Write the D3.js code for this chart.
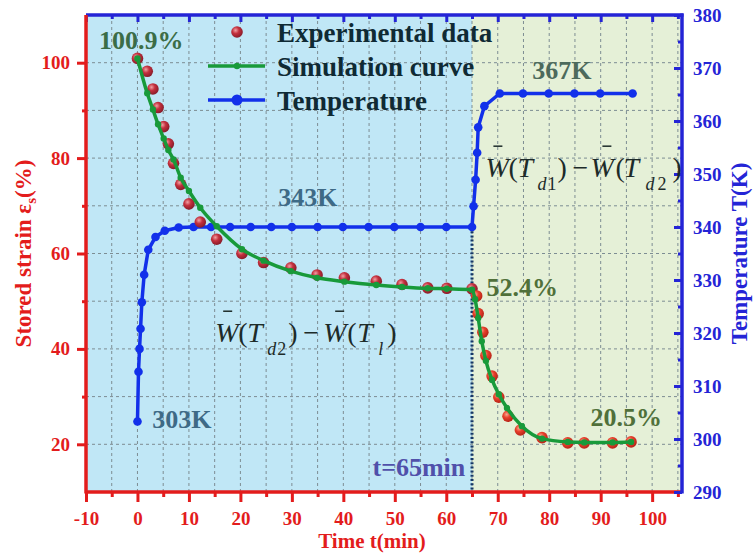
<!DOCTYPE html>
<html><head><meta charset="utf-8">
<script src="https://cdn.jsdelivr.net/npm/d3@7"></script>
<style>html,body{margin:0;padding:0;background:#fff}svg{display:block}</style>
</head><body>
<svg id="c" width="753" height="557"></svg>
<script>
// ---- data ----
const expT = [0, 1.9, 3.0, 4.0, 5.1, 6.0, 7.0, 8.4, 10.0, 12.2, 15.4, 20.3, 24.5, 29.8, 34.9, 40.2, 46.4, 51.4, 56.4, 60.1, 65.0, 65.9, 66.2, 67.1, 67.7, 68.9, 70.2, 72.0, 74.4, 78.6, 83.6, 86.8, 92.3, 95.9];
const expV = [100.9, 98.2, 94.5, 90.6, 86.6, 83.0, 78.9, 74.5, 70.4, 66.6, 63.0, 60.0, 58.1, 57.0, 55.5, 54.9, 54.2, 53.5, 52.8, 52.7, 52.6, 51.1, 47.4, 43.5, 38.6, 34.3, 29.9, 25.9, 23.0, 21.4, 20.3, 20.3, 20.3, 20.5];
const simT = [0, 1.9, 3.0, 4.0, 5.1, 6.0, 7.0, 8.4, 10.0, 12.2, 15.4, 20.3, 24.5, 29.8, 34.9, 40.2, 46.4, 51.4, 56.4, 60.1, 65.0, 65.6, 66.2, 66.9, 67.7, 68.9, 70.2, 71.8, 74.7, 78.6, 83.6, 86.8, 92.3, 95.9];
const simV = [100.9, 93.6, 90.2, 87.1, 84.1, 81.7, 79.7, 75.9, 73.1, 69.6, 65.7, 60.9, 58.5, 56.3, 54.9, 54.1, 53.4, 53.0, 52.7, 52.6, 52.4, 50.4, 46.5, 41.6, 37.5, 33.5, 30.5, 27.6, 23.8, 21.2, 20.5, 20.4, 20.4, 20.5];
const tempT = [0, 0.2, 0.4, 0.6, 0.85, 1.3, 2.1, 3.5, 5.3, 8.0, 10.9, 14.3, 18.0, 22.0, 26.0, 30.0, 35.0, 39.9, 44.9, 49.9, 55.0, 60.0, 65.0, 65.3, 65.7, 66.0, 66.2, 67.4, 70.4, 74.9, 79.9, 84.9, 89.9, 96.2];
const tempV = [303.3, 312.7, 317.0, 320.8, 325.8, 331.0, 335.7, 338.1, 339.3, 339.9, 340, 340, 340, 340, 340, 340, 340, 340, 340, 340, 340, 340, 340, 343.9, 348.9, 354.0, 358.8, 362.8, 365.2, 365.2, 365.2, 365.2, 365.2, 365.2];
const xTicks = [-10, 0, 10, 20, 30, 40, 50, 60, 70, 80, 90, 100];
const yLeftTicks = [20, 40, 60, 80, 100];
const yRightTicks = [290, 300, 310, 320, 330, 340, 350, 360, 370, 380];
const switchTime = 65;
const legendLabels = ["Experimental data", "Simulation curve", "Temperature"];

// ---- layout ----
const L = 86, R = 682, T = 15, B = 492;
const svg = d3.select("#c");
const x = d3.scaleLinear().domain([-10, 105.8]).range([L, R]);
const yL = d3.scaleLinear().domain([10, 110]).range([B, T]);
const yR = d3.scaleLinear().domain([290, 380]).range([B, T]);
const serif = "'Liberation Serif','Times New Roman',serif";
const fmt = d => String(d);

const defs = svg.append("defs");
function ballGrad(id, hi, mid, edge) {
  const g = defs.append("radialGradient").attr("id", id).attr("cx", "38%").attr("cy", "35%").attr("r", "65%");
  g.append("stop").attr("offset", "0%").attr("stop-color", hi);
  g.append("stop").attr("offset", "45%").attr("stop-color", mid);
  g.append("stop").attr("offset", "100%").attr("stop-color", edge);
}
ballGrad("ballA", "#f0a0a4", "#c4303e", "#8a1c2a");
ballGrad("ballB", "#f7a890", "#e8402c", "#b82418");

// backgrounds
svg.append("rect").attr("x", x(-10)).attr("y", T).attr("width", x(switchTime) - x(-10)).attr("height", B - T).attr("fill", "#c0e7f6");
svg.append("rect").attr("x", x(switchTime)).attr("y", T).attr("width", R - x(switchTime)).attr("height", B - T).attr("fill", "#e5f0d7");

// grid
const grid = svg.append("g").attr("stroke", "#7d8d93").attr("stroke-width", 1).attr("stroke-dasharray", "3,3");
grid.selectAll("line.v").data(d3.range(-5, 106, 5)).join("line")
  .attr("x1", d => x(d)).attr("x2", d => x(d)).attr("y1", T).attr("y2", B);
grid.selectAll("line.h").data(d3.range(20, 101, 10)).join("line")
  .attr("x1", L).attr("x2", R).attr("y1", d => yL(d)).attr("y2", d => yL(d));

// dotted switch line
svg.append("line").attr("x1", x(switchTime)).attr("x2", x(switchTime))
  .attr("y1", yR(340)).attr("y2", B).attr("stroke", "#173867").attr("stroke-width", 3).attr("stroke-dasharray", "2,2.2");

// temperature
const tempData = tempT.map((t, i) => [t, tempV[i]]);
svg.append("path").datum(tempData).attr("fill", "none").attr("stroke", "#1230ea").attr("stroke-width", 3.5)
  .attr("d", d3.line().x(d => x(d[0])).y(d => yR(d[1])));
svg.append("g").selectAll("circle").data(tempData).join("circle")
  .attr("cx", d => x(d[0])).attr("cy", d => yR(d[1])).attr("r", 4.3).attr("fill", "#1230ea");

// experimental
const expData = expT.map((t, i) => [t, expV[i]]);
svg.append("g").selectAll("circle").data(expData).join("circle")
  .attr("cx", d => x(d[0])).attr("cy", d => yL(d[1])).attr("r", 5.8)
  .attr("fill", d => d[0] <= switchTime ? "url(#ballA)" : "url(#ballB)");

// simulation
const simData = simT.map((t, i) => [t, simV[i]]);
svg.append("path").datum(simData).attr("fill", "none").attr("stroke", "#189a3a").attr("stroke-width", 3.5)
  .attr("d", d3.line().x(d => x(d[0])).y(d => yL(d[1])).curve(d3.curveMonotoneX));
svg.append("g").selectAll("circle").data(simData).join("circle")
  .attr("cx", d => x(d[0])).attr("cy", d => yL(d[1])).attr("r", 3.2).attr("fill", "#189a3a");

// axes
function styleAxis(g, color) {
  g.attr("font-family", serif).attr("font-size", 19);
  g.select(".domain").remove();
  g.selectAll(".tick line").attr("stroke", color).attr("stroke-width", 3);
  g.selectAll(".tick text").attr("fill", color).attr("font-family", serif).attr("font-weight", "bold").attr("font-size", 19);
}
const red = "#e31c1c", blue = "#2424d6";
// bottom
const gb = svg.append("g").attr("transform", `translate(0,${B})`);
gb.call(d3.axisBottom(x).tickValues(d3.range(-5, 106, 10)).tickSize(5).tickFormat(""));
styleAxis(gb, red);
const gb2 = svg.append("g").attr("transform", `translate(0,${B})`);
gb2.call(d3.axisBottom(x).tickValues(xTicks).tickSize(10).tickPadding(10).tickFormat(fmt));
styleAxis(gb2, red);
svg.append("line").attr("x1", L - 1).attr("x2", R).attr("y1", B).attr("y2", B).attr("stroke", red).attr("stroke-width", 3.5);
// top
const gt = svg.append("g").attr("transform", `translate(0,${T})`);
gt.call(d3.axisBottom(x).tickValues(xTicks).tickSize(7).tickFormat(""));
styleAxis(gt, blue);
const gt2 = svg.append("g").attr("transform", `translate(0,${T})`);
gt2.call(d3.axisBottom(x).tickValues(d3.range(-5, 106, 10)).tickSize(4).tickFormat(""));
styleAxis(gt2, blue);
svg.append("line").attr("x1", L).attr("x2", R + 1.5).attr("y1", T).attr("y2", T).attr("stroke", blue).attr("stroke-width", 3.5);
// left
const gl = svg.append("g").attr("transform", `translate(${L},0)`);
gl.call(d3.axisLeft(yL).tickValues(d3.range(30, 101, 20)).tickSize(4).tickFormat(""));
styleAxis(gl, red);
const gl2 = svg.append("g").attr("transform", `translate(${L},0)`);
gl2.call(d3.axisLeft(yL).tickValues(yLeftTicks).tickSize(9).tickPadding(7).tickFormat(fmt));
styleAxis(gl2, red);
svg.append("line").attr("x1", L).attr("x2", L).attr("y1", T).attr("y2", B + 1.5).attr("stroke", red).attr("stroke-width", 3.5);
// right
const gr = svg.append("g").attr("transform", `translate(${R},0)`);
gr.call(d3.axisLeft(yR).tickValues(d3.range(295, 380, 10)).tickSize(4).tickFormat(""));
styleAxis(gr, blue);
const gr2 = svg.append("g").attr("transform", `translate(${R},0)`);
gr2.call(d3.axisLeft(yR).tickValues(yRightTicks).tickSize(8).tickFormat(""));
styleAxis(gr2, blue);
svg.append("g").selectAll("text").data(yRightTicks).join("text")
  .attr("x", R + 11).attr("y", d => yR(d)).attr("dy", "0.35em")
  .attr("fill", blue).attr("font-family", serif).attr("font-weight", "bold").attr("font-size", 19).text(d => d);
svg.append("line").attr("x1", R).attr("x2", R).attr("y1", T - 1.5).attr("y2", B + 1.5).attr("stroke", blue).attr("stroke-width", 3.5);

// axis titles
svg.append("text").attr("x", 372).attr("y", 548).attr("text-anchor", "middle")
  .attr("fill", red).attr("font-family", serif).attr("font-weight", "bold").attr("font-size", 21).text("Time t(min)");
const lt = svg.append("text").attr("transform", `translate(31,${(T + B) / 2}) rotate(-90)`).attr("text-anchor", "middle")
  .attr("fill", red).attr("font-family", serif).attr("font-weight", "bold").attr("font-size", 23);
lt.append("tspan").text("Stored strain ε");
lt.append("tspan").attr("font-size", 15).attr("dy", 5).text("s");
lt.append("tspan").attr("dy", -5).text("(%)");
svg.append("text").attr("transform", `translate(747,${(T + B) / 2}) rotate(-90)`).attr("text-anchor", "middle")
  .attr("fill", blue).attr("font-family", serif).attr("font-weight", "bold").attr("font-size", 23).text("Temperature T(K)");

// legend
const lg = svg.append("g");
const legY = [32, 66, 100];
lg.append("circle").attr("cx", 237).attr("cy", legY[0]).attr("r", 5.8).attr("fill", "url(#ballA)");
lg.append("line").attr("x1", 208).attr("x2", 265).attr("y1", legY[1]).attr("y2", legY[1]).attr("stroke", "#189a3a").attr("stroke-width", 3.5);
lg.append("circle").attr("cx", 237).attr("cy", legY[1]).attr("r", 3.2).attr("fill", "#189a3a");
lg.append("line").attr("x1", 208).attr("x2", 265).attr("y1", legY[2]).attr("y2", legY[2]).attr("stroke", "#1230ea").attr("stroke-width", 3.5);
lg.append("circle").attr("cx", 237).attr("cy", legY[2]).attr("r", 5.5).attr("fill", "#1230ea");
lg.selectAll("text").data(legendLabels).join("text")
  .attr("x", 277).attr("y", (d, i) => legY[i] + 9.5)
  .attr("fill", "#0f2a34").attr("font-family", serif).attr("font-weight", "bold").attr("font-size", 27).text(d => d);

// annotations
const ann = [
  {t: -7.45, v: 102.8, s: "100.9%", c: "#3b6d47", a: "start"},
  {t: 27.35, v: 69.9, s: "343K", c: "#3e6a86", a: "start"},
  {t: 76.7, v: 96.5, s: "367K", c: "#4d6a5c", a: "start"},
  {t: 2.86, v: 23.5, s: "303K", c: "#3e6a86", a: "start"},
  {t: 67.8, v: 51.0, s: "52.4%", c: "#50703a", a: "start"},
  {t: 88.0, v: 23.75, s: "20.5%", c: "#50703a", a: "start"},
  {t: 63.7, v: 13.3, s: "t=65min", c: "#5050aa", a: "end"}
];
svg.append("g").selectAll("text").data(ann).join("text")
  .attr("x", d => x(d.t)).attr("y", d => yL(d.v)).attr("text-anchor", d => d.a)
  .attr("fill", d => d.c).attr("font-family", serif).attr("font-weight", "bold").attr("font-size", 26).text(d => d.s);

// formulas
function formula(t0, v0, parts, bars) {
  const g = svg.append("g").attr("transform", `translate(${x(t0)},${yL(v0)})`);
  g.selectAll("text").data(parts).join("text")
    .attr("x", d => d.x).attr("y", d => d.sub ? 13 : 0)
    .attr("font-style", d => d.it ? "italic" : "normal")
    .attr("font-size", d => d.sub ? 18 : 28)
    .attr("font-family", serif).attr("fill", "#1d2b29").text(d => d.s);
  g.selectAll("line").data(bars).join("line")
    .attr("x1", d => d).attr("x2", d => d + 9).attr("y1", -31).attr("y2", -31)
    .attr("stroke", "#1d2b29").attr("stroke-width", 1.5);
}
formula(15.1, 41.4, [
  {s: "W", x: 0, it: 1}, {s: "(", x: 23}, {s: "T", x: 32, it: 1}, {s: "d", x: 52, it: 1, sub: 1}, {s: "2", x: 62, sub: 1},
  {s: ")", x: 73}, {s: "−", x: 88}, {s: "W", x: 108, it: 1}, {s: "(", x: 132}, {s: "T", x: 142, it: 1},
  {s: "l", x: 163, it: 1, sub: 1}, {s: ")", x: 172}
], [8, 120]);
formula(67.6, 76.0, [
  {s: "W", x: 0, it: 1}, {s: "(", x: 23}, {s: "T", x: 32, it: 1}, {s: "d", x: 52, it: 1, sub: 1}, {s: "1", x: 62, sub: 1},
  {s: ")", x: 72}, {s: "−", x: 87}, {s: "W", x: 105, it: 1}, {s: "(", x: 130}, {s: "T", x: 138, it: 1},
  {s: "d", x: 160, it: 1, sub: 1}, {s: "2", x: 172, sub: 1}, {s: ")", x: 187}
], [8, 117]);
</script>
</body></html>
